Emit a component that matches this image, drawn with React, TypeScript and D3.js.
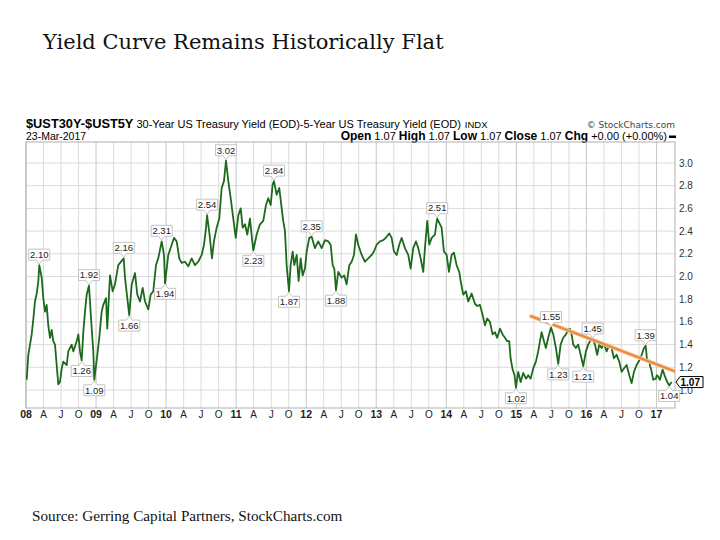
import React from "react";
import * as d3 from "d3";

// ---- data ----
const yearFrac = [
  2008.010, 2008.033, 2008.081, 2008.104, 2008.128, 2008.153, 2008.176, 2008.190, 2008.224, 2008.247,
  2008.271, 2008.295, 2008.318, 2008.343, 2008.367, 2008.390, 2008.414, 2008.438, 2008.461, 2008.485,
  2008.510, 2008.532, 2008.581, 2008.604, 2008.652, 2008.675, 2008.724, 2008.747, 2008.771, 2008.795,
  2008.818, 2008.842, 2008.866, 2008.899, 2008.938, 2008.961, 2008.975, 2009.018, 2009.046, 2009.080,
  2009.103, 2009.142, 2009.160, 2009.199, 2009.237, 2009.270, 2009.317, 2009.395, 2009.413, 2009.446,
  2009.474, 2009.509, 2009.556, 2009.589, 2009.627, 2009.666, 2009.699, 2009.746, 2009.780, 2009.817,
  2009.856, 2009.888, 2009.937, 2009.970, 2009.985, 2010.031, 2010.080, 2010.112, 2010.151, 2010.188,
  2010.222, 2010.269, 2010.317, 2010.365, 2010.412, 2010.459, 2010.508, 2010.541, 2010.565, 2010.585,
  2010.620, 2010.655, 2010.683, 2010.722, 2010.759, 2010.793, 2010.826, 2010.855, 2010.888, 2010.922,
  2010.959, 2010.994, 2011.031, 2011.065, 2011.093, 2011.126, 2011.159, 2011.197, 2011.225, 2011.245,
  2011.293, 2011.340, 2011.387, 2011.426, 2011.458, 2011.493, 2011.521, 2011.540, 2011.578, 2011.615,
  2011.650, 2011.672, 2011.697, 2011.721, 2011.754, 2011.778, 2011.807, 2011.830, 2011.864, 2011.892,
  2011.921, 2011.949, 2011.982, 2012.007, 2012.044, 2012.078, 2012.125, 2012.172, 2012.221, 2012.268,
  2012.315, 2012.349, 2012.378, 2012.401, 2012.425, 2012.458, 2012.506, 2012.543, 2012.577, 2012.615,
  2012.649, 2012.682, 2012.710, 2012.743, 2012.792, 2012.839, 2012.886, 2012.934, 2012.967, 2013.006,
  2013.053, 2013.100, 2013.148, 2013.186, 2013.220, 2013.253, 2013.291, 2013.328, 2013.363, 2013.410,
  2013.457, 2013.491, 2013.528, 2013.567, 2013.600, 2013.634, 2013.671, 2013.695, 2013.728, 2013.757,
  2013.791, 2013.838, 2013.855, 2013.870, 2013.933, 2013.966, 2014.005, 2014.038, 2014.076, 2014.109,
  2014.147, 2014.185, 2014.205, 2014.242, 2014.280, 2014.313, 2014.362, 2014.409, 2014.442, 2014.480,
  2014.519, 2014.552, 2014.584, 2014.623, 2014.661, 2014.694, 2014.727, 2014.766, 2014.804, 2014.837,
  2014.870, 2014.898, 2014.918, 2014.947, 2014.975, 2014.994, 2015.027, 2015.061, 2015.098, 2015.137,
  2015.170, 2015.204, 2015.241, 2015.279, 2015.312, 2015.337, 2015.361, 2015.394, 2015.422, 2015.455,
  2015.494, 2015.527, 2015.565, 2015.598, 2015.632, 2015.669, 2015.708, 2015.740, 2015.765, 2015.789,
  2015.812, 2015.850, 2015.883, 2015.918, 2015.955, 2015.993, 2016.026, 2016.060, 2016.089, 2016.122,
  2016.154, 2016.183, 2016.217, 2016.250, 2016.289, 2016.326, 2016.360, 2016.393, 2016.431, 2016.469,
  2016.503, 2016.536, 2016.574, 2016.612, 2016.646, 2016.679, 2016.717, 2016.754, 2016.789, 2016.822,
  2016.846, 2016.868, 2016.897, 2016.910, 2016.921, 2016.954, 2016.992, 2017.005, 2017.025, 2017.049,
  2017.088, 2017.121, 2017.154, 2017.182, 2017.217,
];

const spread = [
  1.09, 1.31, 1.49, 1.62, 1.78, 1.85, 1.96, 2.10, 1.99, 1.81,
  1.69, 1.75, 1.57, 1.46, 1.53, 1.43, 1.40, 1.22, 1.05, 1.07,
  1.19, 1.25, 1.22, 1.34, 1.40, 1.34, 1.43, 1.49, 1.34, 1.26,
  1.51, 1.69, 1.84, 1.92, 1.54, 1.34, 1.09, 1.31, 1.46, 1.69,
  1.75, 1.81, 1.54, 2.01, 1.87, 1.93, 2.10, 2.16, 1.99, 1.81,
  1.66, 1.93, 2.03, 1.84, 1.78, 1.90, 1.78, 1.71, 1.84, 1.87,
  2.10, 2.16, 2.31, 2.19, 1.94, 2.19, 2.28, 2.34, 2.31, 2.16,
  2.12, 2.13, 2.09, 2.16, 2.10, 2.13, 2.19, 2.28, 2.40, 2.54,
  2.37, 2.16, 2.31, 2.43, 2.51, 2.78, 2.84, 3.02, 2.84, 2.69,
  2.51, 2.34, 2.54, 2.60, 2.43, 2.46, 2.37, 2.51, 2.34, 2.23,
  2.37, 2.46, 2.49, 2.63, 2.69, 2.63, 2.81, 2.84, 2.72, 2.78,
  2.60, 2.49, 2.40, 2.10, 1.87, 2.10, 2.22, 2.10, 2.19, 1.96,
  2.16, 2.01, 2.07, 2.22, 2.34, 2.35, 2.25, 2.31, 2.25, 2.32,
  2.31, 2.28, 2.10, 2.07, 1.88, 2.04, 1.99, 2.01, 1.93, 2.10,
  2.13, 2.19, 2.37, 2.28, 2.19, 2.13, 2.16, 2.19, 2.22, 2.28,
  2.31, 2.32, 2.35, 2.38, 2.34, 2.22, 2.19, 2.28, 2.34, 2.25,
  2.19, 2.07, 2.25, 2.31, 2.25, 2.16, 2.04, 2.25, 2.49, 2.28,
  2.34, 2.37, 2.45, 2.51, 2.43, 2.22, 2.19, 2.04, 2.19, 2.21,
  2.10, 2.04, 1.96, 1.84, 1.87, 1.78, 1.85, 1.76, 1.74, 1.75,
  1.66, 1.57, 1.63, 1.60, 1.49, 1.51, 1.46, 1.54, 1.49, 1.46,
  1.43, 1.43, 1.28, 1.18, 1.13, 1.02, 1.16, 1.07, 1.15, 1.10,
  1.13, 1.10, 1.19, 1.25, 1.34, 1.43, 1.51, 1.43, 1.37, 1.46,
  1.55, 1.49, 1.37, 1.23, 1.40, 1.46, 1.49, 1.53, 1.54, 1.49,
  1.40, 1.37, 1.40, 1.31, 1.21, 1.34, 1.40, 1.44, 1.45, 1.40,
  1.31, 1.40, 1.37, 1.41, 1.34, 1.40, 1.37, 1.28, 1.31, 1.25,
  1.16, 1.19, 1.22, 1.13, 1.06, 1.16, 1.22, 1.26, 1.31, 1.37,
  1.39, 1.25, 1.26, 1.21, 1.19, 1.09, 1.10, 1.13, 1.12, 1.09,
  1.18, 1.12, 1.07, 1.04, 1.07,
];

// peak / trough annotations
const annYear = [
  2008.190, 2008.899, 2008.795, 2008.975, 2009.395, 2009.474, 2009.937, 2009.985, 2010.585, 2010.855,
  2011.245, 2011.540, 2011.754, 2012.078, 2012.425, 2013.870, 2014.994, 2015.494, 2015.598, 2015.955,
  2016.089, 2016.846, 2017.182,
];
const annValue = [
  2.10, 1.92, 1.26, 1.09, 2.16, 1.66, 2.31, 1.94, 2.54, 3.02,
  2.23, 2.84, 1.87, 2.35, 1.88, 2.51, 1.02, 1.55, 1.23, 1.21,
  1.45, 1.39, 1.04,
];
const annSide = [
  "up", "up", "down", "down", "up", "down", "up", "down", "up", "up",
  "down", "up", "down", "up", "down", "up", "down", "up", "down", "down",
  "up", "up", "down",
];

const trendYear = [2015.21, 2017.28];
const trendValue = [1.65, 1.16];

const yTickValues = [1.0, 1.2, 1.4, 1.6, 1.8, 2.0, 2.2, 2.4, 2.6, 2.8, 3.0];
const yearTicks = [2008, 2009, 2010, 2011, 2012, 2013, 2014, 2015, 2016, 2017];
const yearLabels = ["08", "09", "10", "11", "12", "13", "14", "15", "16", "17"];
const quarterLabels = ["A", "J", "O"];
const lastValue = 1.07;
const lastDate = 2017.222;

// ---- layout ----
const W = 720;
const H = 540;
const L = 26;
const R = 675;
const T = 142;
const B = 408;

const SANS = "'Liberation Sans', Arial, sans-serif";
const TITLE_SERIF = "'DejaVu Serif', Georgia, serif";
const SOURCE_SERIF = "'Liberation Serif', Georgia, serif";

export default function App() {
  const x = d3.scaleLinear().domain([2008, lastDate]).range([L, 672]);
  const y = d3.scaleLinear().domain([1.0, 3.0]).range([390, 163]);

  const pts: [number, number][] = yearFrac.map((t, i) => [t, spread[i]]);
  const line = d3
    .line<[number, number]>()
    .x((d) => x(d[0]))
    .y((d) => y(d[1]));
  const trendPts: [number, number][] = trendYear.map((t, i) => [t, trendValue[i]]);

  const quarters: { t: number; label: string; year: boolean }[] = [];
  yearTicks.forEach((yr, i) => {
    quarters.push({ t: yr, label: yearLabels[i], year: true });
    quarterLabels.forEach((q, k) => {
      const t = yr + (k + 1) * 0.25;
      if (t <= lastDate) quarters.push({ t, label: q, year: false });
    });
  });

  const ly = y(lastValue);

  return (
    <svg
      width={W}
      height={H}
      viewBox={`0 0 ${W} ${H}`}
      style={{ position: "absolute", left: 0, top: 0, background: "#fff" }}
    >
      <defs>
        <clipPath id="plotclip">
          <rect x={L} y={T} width={R - L} height={B - T} />
        </clipPath>
      </defs>
      <rect x={0} y={0} width={W} height={H} fill="#fff" />

      {/* title */}
      <text x={43} y={49} fontFamily={TITLE_SERIF} fontSize={21} fill="#111">
        Yield Curve Remains Historically Flat
      </text>

      {/* header */}
      <text x={26} y={128} fontFamily={SANS} fontSize={12.8} fontWeight="bold" fill="#000">
        $UST30Y-$UST5Y
        <tspan fontWeight="normal" fontSize={11} dx={3}>
          30-Year US Treasury Yield (EOD)-5-Year US Treasury Yield (EOD)
        </tspan>
        <tspan fontWeight="normal" fontSize={9.5} dx={4}>
          INDX
        </tspan>
      </text>
      <text x={R} y={128} textAnchor="end" fontFamily="'DejaVu Sans', Verdana, sans-serif" fontSize={9} fill="#444">
        © StockCharts.com
      </text>
      <text x={26} y={140} fontFamily={SANS} fontSize={10.5} fill="#000">
        23-Mar-2017
      </text>
      <text x={667} y={140} textAnchor="end" fontFamily={SANS} fontSize={11} fill="#000">
        <tspan fontWeight="bold" fontSize={12}>Open</tspan> 1.07{" "}
        <tspan fontWeight="bold" fontSize={12}>High</tspan> 1.07{" "}
        <tspan fontWeight="bold" fontSize={12}>Low</tspan> 1.07{" "}
        <tspan fontWeight="bold" fontSize={12}>Close</tspan> 1.07{" "}
        <tspan fontWeight="bold" fontSize={12}>Chg</tspan> +0.00 (+0.00%)
      </text>
      <rect x={669} y={135.5} width={7} height={2.5} fill="#000" />

      {/* grid */}
      {yTickValues.map((v) => (
        <line key={"h" + v} x1={L} x2={R} y1={y(v)} y2={y(v)} stroke="#dcdcdc" strokeWidth={1} />
      ))}
      {quarters.map((q) => (
        <line
          key={"v" + q.t}
          x1={x(q.t)}
          x2={x(q.t)}
          y1={T}
          y2={B}
          stroke={q.year ? "#c6c6c6" : "#dcdcdc"}
          strokeWidth={1}
        />
      ))}
      <rect x={L} y={T} width={R - L} height={B - T} fill="none" stroke="#b0b0b0" strokeWidth={1} />

      {/* y axis labels */}
      {yTickValues.map((v) => (
        <text key={"yl" + v} x={679} y={y(v) + 3.5} fontFamily={SANS} fontSize={10} fill="#333">
          {v.toFixed(1)}
        </text>
      ))}

      {/* x axis labels */}
      {quarters.map((q) => (
        <text
          key={"xl" + q.t}
          x={x(q.t)}
          y={418}
          textAnchor="middle"
          fontFamily={SANS}
          fontSize={q.year ? 10.5 : 10}
          fontWeight={q.year ? "bold" : "normal"}
          fill="#222"
        >
          {q.label}
        </text>
      ))}

      {/* series */}
      <g clipPath="url(#plotclip)">
        <path d={line(pts) || ""} fill="none" stroke="#1d6a1d" strokeWidth={1.8} strokeLinejoin="round" />
        <path d={line(trendPts) || ""} fill="none" stroke="#f6c79b" strokeWidth={4} strokeLinecap="round" />
        <path d={line(trendPts) || ""} fill="none" stroke="#e98a3e" strokeWidth={2.2} strokeLinecap="round" />
      </g>

      {/* annotations */}
      {annYear.map((t, i) => {
        const px = x(t);
        const py = y(annValue[i]);
        const w = 21;
        const h = 11;
        const up = annSide[i] === "up";
        const by = up ? py - 5 : py + 5; // edge of box nearest the point
        const top = up ? by - h : by;
        const tip = up ? py - 1 : py + 1;
        const d = up
          ? `M${px - w / 2},${top} H${px + w / 2} V${by} H${px + 3} L${px},${tip} L${px - 3},${by} H${px - w / 2} Z`
          : `M${px - w / 2},${top} H${px - 3} L${px},${tip} L${px + 3},${top} H${px + w / 2} V${top + h} H${px - w / 2} Z`;
        return (
          <g key={"a" + i}>
            <path d={d} fill="#fff" stroke="#c4c4c4" strokeWidth={1} />
            <text
              x={px}
              y={top + 8.8}
              textAnchor="middle"
              fontFamily={SANS}
              fontSize={9.5}
              fill="#222"
            >
              {annValue[i].toFixed(2)}
            </text>
          </g>
        );
      })}

      {/* last value marker */}
      <path
        d={`M${R + 1},${ly} L${R + 5},${ly - 5.5} H${R + 28} V${ly + 5.5} H${R + 5} Z`}
        fill="#fff"
        stroke="#000"
        strokeWidth={1}
      />
      <text x={R + 5.5} y={ly + 3.8} fontFamily={SANS} fontSize={10} fontWeight="bold" fill="#000">
        {lastValue.toFixed(2)}
      </text>

      {/* source */}
      <text x={32} y={521} fontFamily={SOURCE_SERIF} fontSize={15.2} fill="#111">
        Source: Gerring Capital Partners, StockCharts.com
      </text>
    </svg>
  );
}
